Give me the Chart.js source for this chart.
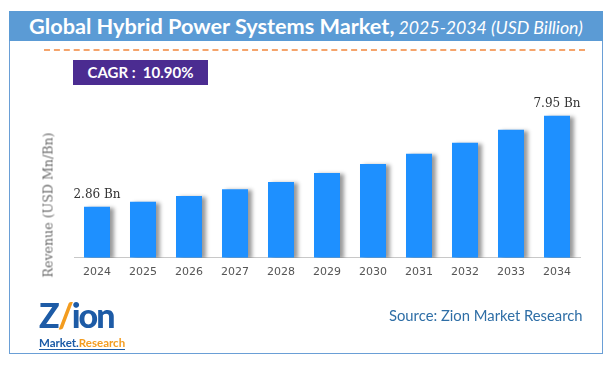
<!DOCTYPE html>
<html>
<head>
<meta charset="utf-8">
<script src="https://cdn.jsdelivr.net/npm/chart.js@4.4.1/dist/chart.umd.min.js"></script>
<style>
    html, body { margin: 0; padding: 0; background: #fff; }
    #wrap { position: relative; width: 612px; height: 367px; overflow: hidden; }
    #frame { position: absolute; left: 9px; top: 11px; width: 592px; height: 341px; border: 1px solid #6a9fd6; }
    #titlebar { position: absolute; left: 9px; top: 11px; width: 594px; height: 30px; background: #5b9bd5;
        color: #fff; font-family: Lato, sans-serif; text-align: center; line-height: 30px; white-space: nowrap; }
    #titlebar b { font-size: 21.7px; font-weight: 700; }
    #titlebar i { font-size: 17.7px; font-weight: 400; }
    #dash { position: absolute; left: 44px; top: 49px; width: 541px; height: 0; border-top: 2px dashed #f5a46b; }
    #cagr { position: absolute; left: 73px; top: 60px; width: 135px; height: 25px; background: #4b2c91; color: #fff;
        font-family: Lato, sans-serif; font-weight: 700; font-size: 15px; line-height: 25px; text-align: center; white-space: pre; }
    #ytitle { position: absolute; left: 48px; top: 205px; transform: translate(-50%, -50%) rotate(-90deg);
        font-family: "DejaVu Serif", serif; font-size: 12.6px; color: #6a6a6a; white-space: nowrap; }
    #chart { position: absolute; left: 0; top: 0; }
    #logo { position: absolute; left: 39px; top: 299px; font-family: Lato, sans-serif; }
    #logo .zion { font-size: 34px; font-weight: 900; color: #1d5ba6; letter-spacing: -2px; line-height: 32px; }
    #logo .zion span { color: #f39c1f; }
    #logo .mr { font-size: 11.5px; font-weight: 700; line-height: 12px; border-bottom: 1px solid #1d5ba6; display: inline-block; }
    #logo .mr .m { color: #1d5ba6; }
    #logo .mr .r { color: #f39c1f; }
    #source { position: absolute; left: 389px; top: 306px; font-family: Lato, sans-serif; font-size: 14.8px; color: #2e6ea6; white-space: nowrap; }
</style>
</head>
<body>
<div id="wrap">
    <div id="frame"></div>
    <div id="titlebar"><b>Global Hybrid Power Systems Market,</b> <i>2025-2034 (USD Billion)</i></div>
    <div id="dash"></div>
    <div id="cagr">CAGR :  10.90%</div>
    <canvas id="chart" width="612" height="367"></canvas>
    <div id="ytitle">Revenue (USD Mn/Bn)</div>
    <div id="logo">
        <div class="zion">Z<span>/</span>ion</div>
        <div class="mr"><span class="m">Market.</span><span class="r">Research</span></div>
    </div>
    <div id="source">Source: Zion Market Research</div>
</div>
<script>
// Chart data
const years = ['2024', '2025', '2026', '2027', '2028', '2029', '2030', '2031', '2032', '2033', '2034'];
const revenue = [2.86, 3.14, 3.46, 3.84, 4.24, 4.74, 5.25, 5.82, 6.44, 7.17, 7.95];
// only first and last bars carry a label
const valueLabels = ['2.86 Bn', '', '', '', '', '', '', '', '', '', '7.95 Bn'];

const barColor = '#1e90ff';

// Drop shadow behind the bars
const barShadow = {
    id: 'barShadow',
    beforeDatasetsDraw(chart) {
        const ctx = chart.ctx;
        ctx.save();
        ctx.shadowColor = 'rgba(0,0,0,0.4)';
        ctx.shadowOffsetX = 4;
        ctx.shadowOffsetY = 1;
        ctx.shadowBlur = 4;
    },
    afterDatasetsDraw(chart) {
        chart.ctx.restore();
    }
};

// Value labels above the bars
const barLabels = {
    id: 'barLabels',
    afterDatasetsDraw(chart) {
        const ctx = chart.ctx;
        const meta = chart.getDatasetMeta(0);
        ctx.save();
        ctx.font = '12px "DejaVu Serif", serif';
        ctx.fillStyle = '#333';
        ctx.textAlign = 'center';
        ctx.textBaseline = 'bottom';
        meta.data.forEach((bar, i) => {
            if (valueLabels[i]) {
                ctx.fillText(valueLabels[i], bar.x, bar.y - 6);
            }
        });
        ctx.restore();
    }
};

new Chart(document.getElementById('chart').getContext('2d'), {
    type: 'bar',
    data: {
        labels: years,
        datasets: [{
            data: revenue,
            backgroundColor: barColor,
            borderWidth: 0,
            categoryPercentage: 1,
            barPercentage: 0.565
        }]
    },
    options: {
        responsive: false,
        animation: false,
        layout: {
            padding: { left: 74, right: 32, top: 97, bottom: 80 }
        },
        scales: {
            x: {
                grid: { display: false, drawTicks: false },
                border: { display: true, color: '#c8c8c8', width: 1 },
                ticks: {
                    padding: 8,
                    color: '#555',
                    font: { family: '"DejaVu Sans", Verdana, sans-serif', size: 11 }
                }
            },
            y: {
                display: false,
                min: 0,
                max: 9
            }
        },
        plugins: {
            legend: { display: false },
            tooltip: { enabled: false }
        }
    },
    plugins: [barShadow, barLabels]
});
</script>
</body>
</html>
